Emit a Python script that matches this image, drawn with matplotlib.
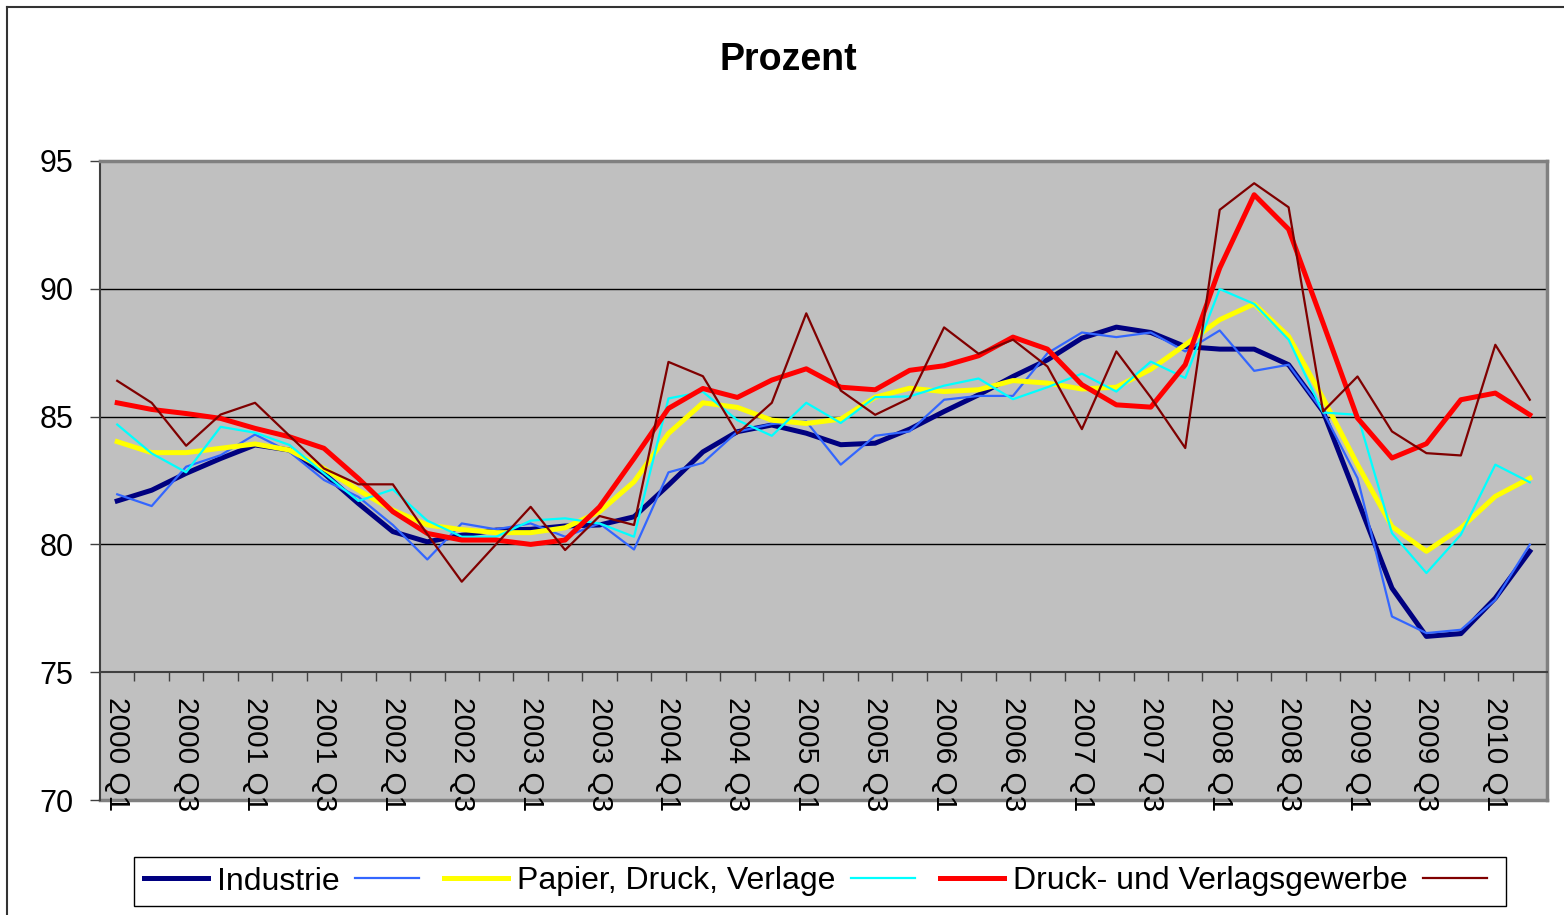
import numpy as np
import matplotlib
matplotlib.use("Agg")
import matplotlib.pyplot as plt
from matplotlib.lines import Line2D

plt.rcParams['font.family'] = ['Liberation Sans', 'DejaVu Sans']

quarters = [f"{y} Q{q}" for y in range(2000, 2011) for q in range(1, 5)][:42]

industrie = [81.70, 82.12, 82.78, 83.36, 83.89, 83.69, 82.78, 81.60, 80.50, 80.10, 80.36,
             80.56, 80.59, 80.72, 80.76, 81.08, 82.32, 83.62, 84.41, 84.67, 84.35,
             83.90, 83.96, 84.51, 85.20, 85.85, 86.57, 87.22, 88.07, 88.50, 88.29,
             87.74, 87.64, 87.64, 87.03, 85.20, 81.75, 78.29, 76.40, 76.51, 77.90, 79.73]
industrie_raw = [81.96, 81.50, 83.04, 83.49, 84.30, 83.62, 82.52, 81.86, 80.76, 79.41, 80.82,
                 80.59, 80.82, 80.30, 80.82, 79.80, 82.82, 83.19, 84.41, 84.71, 84.81,
                 83.12, 84.25, 84.42, 85.66, 85.81, 85.81, 87.48, 88.29, 88.11, 88.29,
                 87.55, 88.37, 86.79, 87.03, 85.20, 82.59, 77.18, 76.53, 76.66, 77.83, 79.99]
papier = [84.02, 83.59, 83.59, 83.76, 83.93, 83.69, 82.97, 82.12, 81.34, 80.76, 80.58,
          80.46, 80.46, 80.65, 81.28, 82.45, 84.34, 85.54, 85.36, 84.86, 84.73,
          84.90, 85.76, 86.11, 85.98, 86.05, 86.41, 86.31, 86.08, 86.15, 86.85,
          87.81, 88.79, 89.41, 88.14, 85.72, 83.12, 80.70, 79.73, 80.64, 81.88, 82.59]
papier_raw = [84.69, 83.56, 82.82, 84.60, 84.37, 83.89, 82.78, 81.70, 82.15, 80.93, 80.30,
              80.30, 80.93, 81.02, 80.82, 80.30, 85.71, 85.97, 84.86, 84.25, 85.54,
              84.75, 85.76, 85.79, 86.21, 86.49, 85.68, 86.15, 86.68, 85.98, 87.15,
              86.51, 89.99, 89.41, 88.01, 85.16, 85.07, 80.44, 78.88, 80.38, 83.12, 82.43]
druck = [85.54, 85.28, 85.12, 84.93, 84.54, 84.21, 83.76, 82.58, 81.28, 80.43, 80.17,
         80.17, 80.00, 80.17, 81.47, 83.36, 85.32, 86.10, 85.75, 86.43, 86.87,
         86.15, 86.05, 86.81, 86.99, 87.38, 88.11, 87.64, 86.25, 85.46, 85.37,
         87.03, 90.81, 93.68, 92.33, 88.66, 84.94, 83.38, 83.94, 85.66, 85.92, 85.07]
druck_raw = [86.40, 85.54, 83.86, 85.08, 85.54, 84.25, 82.97, 82.35, 82.35, 80.40, 78.54,
             80.01, 81.47, 79.78, 81.11, 80.76, 87.14, 86.58, 84.34, 85.54, 89.04,
             86.02, 85.07, 85.72, 88.49, 87.46, 88.01, 86.96, 84.51, 87.55, 85.75,
             83.77, 93.09, 94.13, 93.19, 85.20, 86.57, 84.42, 83.57, 83.48, 87.81, 85.66]

series = [
    (industrie, "#000080", 3.6, "Industrie"),
    (industrie_raw, "#3366FF", 1.6, ""),
    (papier, "#FFFF00", 3.6, "Papier, Druck, Verlage"),
    (papier_raw, "#00FFFF", 1.6, ""),
    (druck, "#FF0000", 3.6, "Druck- und Verlagsgewerbe"),
    (druck_raw, "#800000", 1.6, ""),
]

W, H = 1564, 915
fig = plt.figure(figsize=(W / 100, H / 100), dpi=100)
ax = fig.add_axes([100 / W, 1 - 800 / H, 1447 / W, 639 / H])
ax.set_facecolor("#C0C0C0")

x = np.arange(len(quarters))
lines = []
labels = []
for vals, color, lw, label in series:
    ln, = ax.plot(x, vals, color=color, lw=lw, solid_joinstyle="round", zorder=3)
    lines.append(ln)
    labels.append(label)

ax.set_xlim(-0.5, len(quarters) - 0.5)
ax.set_ylim(70, 95)
ax.set_yticks(range(70, 96, 5))
for y in (80, 85, 90):
    ax.axhline(y, color="black", lw=1, zorder=1)

# category axis crosses at 75
ax.spines["bottom"].set_position(("data", 75))
ax.spines["bottom"].set_color("#404040")
ax.spines["bottom"].set_linewidth(1.5)
ax.spines["left"].set_color("#404040")
ax.spines["left"].set_linewidth(1.5)
for s in ("top", "right"):
    ax.spines[s].set_color("#808080")
    ax.spines[s].set_linewidth(2.5)
ax.axhline(70, color="#808080", lw=2.5, clip_on=False, zorder=1)

ax.set_xticks(x[::2])
ax.set_xticklabels(quarters[::2], rotation=270, fontsize=21.5, va="top", ha="center")
ax.set_xticks(np.arange(0.5, len(quarters), 1), minor=True)
ax.tick_params(axis="x", which="major", length=0, pad=18)
ax.tick_params(axis="x", which="minor", length=6.5, width=1, color="#404040", direction="out")
ax.tick_params(axis="y", length=7.2, width=1, color="#404040", pad=12, labelsize=22)

fig.text(788 / W, 1 - 60 / H, "Prozent", ha="center", va="center",
         fontsize=27, fontweight="bold")

leg = fig.legend(lines, labels, ncol=6, loc="center",
                 bbox_to_anchor=(820 / W, 1 - 881.5 / H), fontsize=23,
                 frameon=True, fancybox=False, edgecolor="black", framealpha=1,
                 handlelength=2.0, handletextpad=0.28, columnspacing=0.5,
                 borderpad=0.3)
leg.get_frame().set_linewidth(1.0)

# outer chart border
fig.add_artist(Line2D([7 / W, 1], [1 - 7 / H, 1 - 7 / H], transform=fig.transFigure,
                      color="#333333", lw=1.5))
fig.add_artist(Line2D([7 / W, 7 / W], [0, 1 - 7 / H], transform=fig.transFigure,
                      color="#333333", lw=1.5))

fig.savefig("out.png", dpi=100)
